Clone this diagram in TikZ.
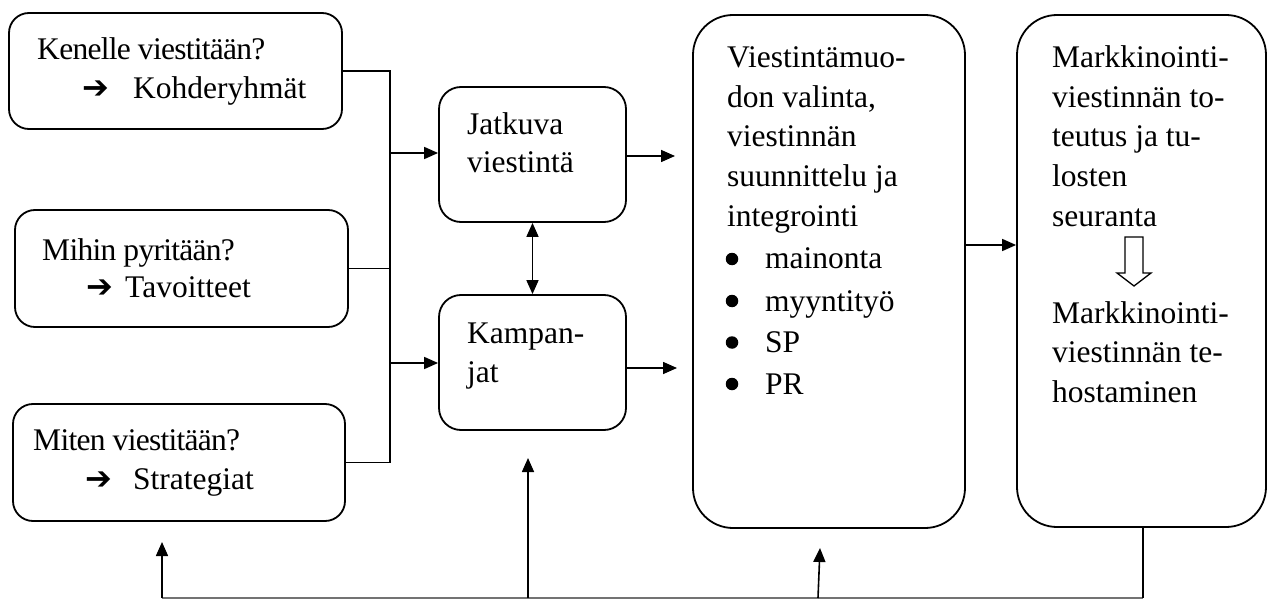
\documentclass[tikz,border=0pt]{standalone}
\usepackage{fontspec}
\setmainfont{Liberation Serif}
\newfontfamily\symfont{DejaVu Sans}
\newfontfamily\tightfont[LetterSpace=-2.3]{Liberation Serif}
\usetikzlibrary{arrows.meta}
\begin{document}
\begin{tikzpicture}[x=1pt,y=-1pt,
  rbox/.style={draw, line width=1.8pt, rounded corners=20pt, inner sep=0pt},
  tallbox/.style={rbox, rounded corners=40pt},
  txt/.style={anchor=base west, inner sep=0pt, font=\fontsize{31.5}{39.5}\selectfont},
  question/.style={txt, font=\tightfont\fontsize{31.5}{39.5}\selectfont},
  pointer/.style={anchor=base west, inner sep=0pt, font=\symfont\bfseries\fontsize{32}{32}\selectfont},
  conn/.style={line width=1.6pt},
  arr/.style={conn, -{Triangle[length=14pt,width=12pt]}},
  dblarr/.style={conn, {Triangle[length=14pt,width=12pt]}-{Triangle[length=14pt,width=12pt]}},
  bulletdot/.style={circle, fill, inner sep=0pt, minimum size=12.5pt},
  feedback/.style={line width=1.3pt, black!55},
]
\useasboundingbox (0,0) rectangle (1270,599);

% --- question boxes on the left
\node[rbox, minimum width=333pt, minimum height=116pt] (b1) at (175.5,71) {};
\node[rbox, minimum width=333pt, minimum height=117pt] (b2) at (181.5,268.5) {};
\node[rbox, minimum width=332pt, minimum height=117pt] (b3) at (179,462.5) {};

\node[question] (b1t) at (37,60) {Kenelle viestitään?};
\node[pointer] (b1p) at (82,99) {➔};
\node[txt] (b1s) at (133,99) {Kohderyhmät};

\node[question] (b2t) at (42,260) {Mihin pyritään?};
\node[pointer] (b2p) at (86,297) {➔};
\node[txt] (b2s) at (125,297) {Tavoitteet};

\node[question] (b3t) at (33,450) {Miten viestitään?};
\node[pointer] (b3p) at (85,489) {➔};
\node[txt] (b3s) at (133,489) {Strategiat};

% --- communication type boxes
\node[rbox, rounded corners=22pt, minimum width=187pt, minimum height=135pt] (jat) at (532.5,154.5) {};
\node[rbox, rounded corners=22pt, minimum width=187pt, minimum height=135pt] (kam) at (532.5,362.5) {};
\node[txt] (jat1) at (467,135) {Jatkuva};
\node[txt] (jat2) at (467,173) {viestintä};
\node[txt] (kam1) at (467,343) {Kampan-};
\node[txt] (kam2) at (467,382) {jat};

% --- planning box
\node[tallbox, minimum width=272pt, minimum height=513pt] (vie) at (829,271.5) {};
\node[txt] (vie1) at (727,68) {Viestintämuo-};
\node[txt] (vie2) at (727,107.5) {don valinta,};
\node[txt] (vie3) at (727,147) {viestinnän};
\node[txt] (vie4) at (727,186.5) {suunnittelu ja};
\node[txt] (vie5) at (727,226) {integrointi};
\foreach \y/\w [count=\i] in {269/mainonta, 311/myyntityö, 352.5/SP, 394/PR} {
  \node[bulletdot] (dot\i) at (732,\y-10) {};
  \node[txt] (item\i) at (765,\y) {\w};
}

% --- execution box
\node[tallbox, minimum width=249pt, minimum height=512pt] (mar) at (1141.5,271) {};
\node[txt] (mar1) at (1052,68) {Markkinointi-};
\node[txt] (mar2) at (1052,107.5) {viestinnän to-};
\node[txt] (mar3) at (1052,147) {teutus ja tu-};
\node[txt] (mar4) at (1052,186.5) {losten};
\node[txt] (mar5) at (1052,226) {seuranta};
\node[txt] (mar6) at (1052,323) {Markkinointi-};
\node[txt] (mar7) at (1052,362.5) {viestinnän te-};
\node[txt] (mar8) at (1052,402) {hostaminen};
\draw[line width=1.3pt, fill=white] (1125,237) -- (1143,237) -- (1143,273) -- (1151,273)
  -- (1134,286) -- (1117,273) -- (1125,273) -- cycle;

% --- trunk collecting the three questions
\coordinate (t1) at (390,71);
\coordinate (t2) at (390,462.5);
\coordinate (tj) at (390,153);
\coordinate (tk) at (390,363);
\draw[conn] (b1.east) -- (t1) -- (t2) -- (b3.east);
\draw[conn] (b2.east) -- (b2.east -| t1);
\draw[arr] (tj) -- (jat.west |- tj);
\draw[arr] (tk) -- (kam.west |- tk);
\draw[dblarr] (jat.south) -- (kam.north);

% --- flow to the right
\coordinate (jo) at (675,156);
\coordinate (ko) at (677,368);
\coordinate (vm) at (965,245);
\draw[arr] (jat.east |- jo) -- (jo);
\draw[arr] (kam.east |- ko) -- (ko);
\draw[arr] (vm) -- (mar.west |- vm);

% --- feedback loop along the bottom
\coordinate (bl) at (162,598);
\coordinate (bk) at (528,598);
\coordinate (bv) at (818,598);
\coordinate (br) at (1143,598);
\coordinate (u1) at (162,542);
\coordinate (u2) at (528,458);
\coordinate (u3) at (820,548);
\draw[feedback] (bl) -- (br);
\draw[conn] (br |- mar.south) -- (br);
\draw[arr] (bl) -- (u1);
\draw[arr] (bk) -- (u2);
\draw[arr] (bv) -- (u3);
\end{tikzpicture}
\end{document}
